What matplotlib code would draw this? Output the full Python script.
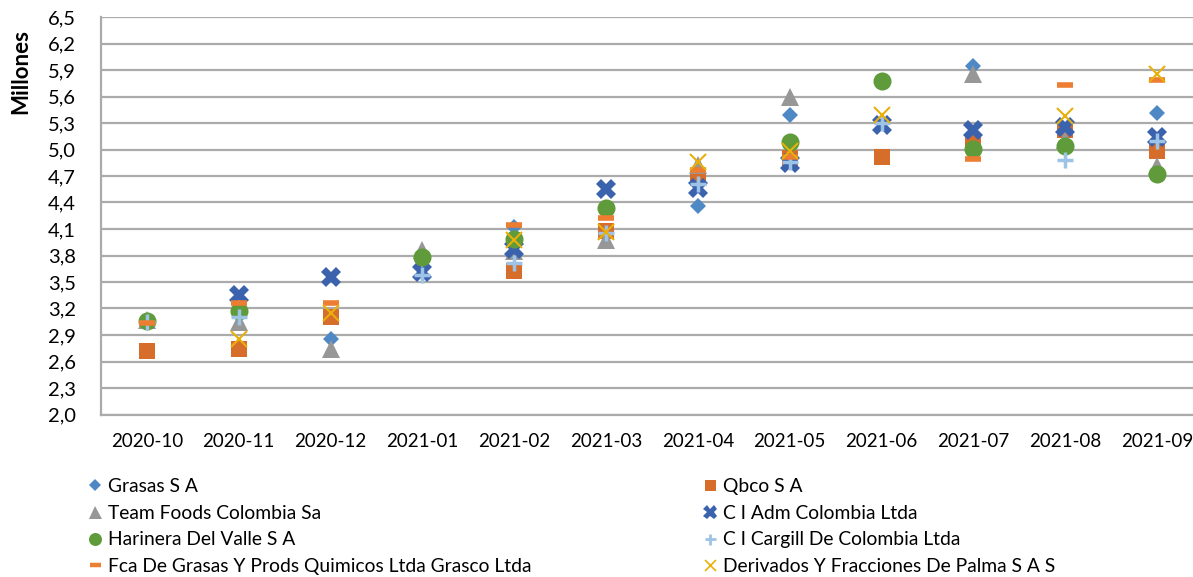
import numpy as np
import matplotlib
matplotlib.use("Agg")
import matplotlib.pyplot as plt
from matplotlib.lines import Line2D

nan = np.nan

meses = ["2020-10", "2020-11", "2020-12", "2021-01", "2021-02", "2021-03",
         "2021-04", "2021-05", "2021-06", "2021-07", "2021-08", "2021-09"]

# valores en millones
grasas    = [nan, nan, 2.86, nan, 4.12, nan, 4.36, 5.39, nan, 5.95, nan, 5.41]
qbco      = [2.72, 2.74, 3.10, nan, 3.62, 4.08, 4.68, 4.90, 4.91, 5.07, 5.22, 4.98]
team      = [3.07, 3.05, 2.74, 3.86, 3.85, 3.98, 4.83, 5.60, nan, 5.85, 5.11, 4.81]
ci_adm    = [nan, 3.35, 3.56, 3.61, 3.87, 4.55, 4.56, 4.85, 5.28, 5.22, 5.25, 5.14]
harinera  = [3.06, 3.17, nan, 3.78, 3.99, 4.34, nan, 5.09, 5.77, 5.01, 5.04, 4.72]
cargill   = [3.05, 3.10, nan, 3.58, 3.71, 4.06, 4.61, 4.86, 5.30, nan, 4.88, 5.10]
fca       = [3.04, 3.26, 3.26, nan, 4.14, 4.22, 4.77, 4.92, nan, 4.89, 5.73, 5.79]
derivados = [nan, 2.86, 3.15, nan, 3.97, 4.07, 4.86, 4.98, 5.39, nan, 5.38, 5.86]

nombres = ["Grasas S A", "Qbco S A", "Team Foods Colombia Sa", "C I Adm Colombia Ltda",
           "Harinera Del Valle S A", "C I Cargill De Colombia Ltda",
           "Fca De Grasas Y Prods Quimicos Ltda Grasco Ltda",
           "Derivados Y Fracciones De Palma S A S"]
series = [grasas, qbco, team, ci_adm, harinera, cargill, fca, derivados]

y_ticks = [2.0, 2.3, 2.6, 2.9, 3.2, 3.5, 3.8, 4.1, 4.4, 4.7, 5.0, 5.3, 5.6, 5.9, 6.2, 6.5]

# estilo de cada serie: marker, color, size, edge width
estilos = [
    dict(marker="D", color="#4E89C6", ms=8.5, mew=0),
    dict(marker="s", color="#D66D2B", ms=11, mew=0),
    dict(marker="^", color="#979797", ms=13, mew=0),
    dict(marker="X", color="#3B63AD", ms=14, mew=0),
    dict(marker="o", color="#5F9B3B", ms=13, mew=0),
    dict(marker="+", color="#9DC3E6", ms=11, mew=2.5),
    dict(marker="_", color="#ED7D31", ms=11, mew=4),
    dict(marker="x", color="#E8B00B", ms=11, mew=1.5),
]

plt.rcParams["font.family"] = ["Lato", "DejaVu Sans"]
texto = "#000000"
grid_c = "#ABABAB"

fig = plt.figure(figsize=(11.93, 5.77), dpi=100)
fig.patch.set_facecolor("white")
ax = fig.add_axes([101 / 1193, 162.5 / 577, 1102 / 1193, 397.5 / 577])

x = np.arange(len(meses))
handles = []
for vals, nom, st in zip(series, nombres, estilos):
    h, = ax.plot(x, vals, linestyle="none", marker=st["marker"],
                 color=st["color"], markersize=st["ms"],
                 markeredgewidth=st["mew"], markeredgecolor=st["color"],
                 label=nom, zorder=3, clip_on=False)
    handles.append(h)

ax.set_xlim(-0.5, len(meses) - 0.5)
ax.set_ylim(2.0, 6.5)
ax.set_yticks(y_ticks)
ax.set_yticklabels([f"{v:.1f}".replace(".", ",") for v in y_ticks],
                   fontsize=14.5, color=texto)
ax.set_xticks(x)
ax.set_xticklabels(meses, fontsize=13.5, color=texto)
ax.tick_params(axis="both", length=0)
ax.tick_params(axis="x", pad=13)
ax.tick_params(axis="y", pad=18)

ax.grid(axis="y", color=grid_c, linewidth=1.6, zorder=0)
ax.set_axisbelow(True)
for side in ["top", "right"]:
    ax.spines[side].set_visible(False)
ax.spines["left"].set_color(grid_c)
ax.spines["left"].set_linewidth(1.6)
ax.spines["bottom"].set_color(grid_c)
ax.spines["bottom"].set_linewidth(1.6)

fig.text(21 / 1193, 1 - 71 / 577, "Millones", rotation=90, ha="center",
         va="center", fontsize=16, fontweight="bold", color=texto)

# leyenda en dos columnas (orden por filas)
def entrada(st):
    return Line2D([], [], linestyle="none", marker=st["marker"], color=st["color"],
                  markersize=st["ms"] * 0.72, markeredgewidth=st["mew"] * 0.8,
                  markeredgecolor=st["color"])

col1 = [0, 2, 4, 6]
col2 = [1, 3, 5, 7]
for cols, x0 in [(col1, 87 / 1193), (col2, 702 / 1193)]:
    fig.legend([entrada(estilos[i]) for i in cols], [nombres[i] for i in cols],
               loc="upper left", bbox_to_anchor=(x0, 1 - 478 / 577),
               frameon=False, fontsize=13.9, handlelength=0.8, handletextpad=0.3,
               labelspacing=0.50, borderpad=0, borderaxespad=0)

fig.savefig("out.png", dpi=100, facecolor="white")
